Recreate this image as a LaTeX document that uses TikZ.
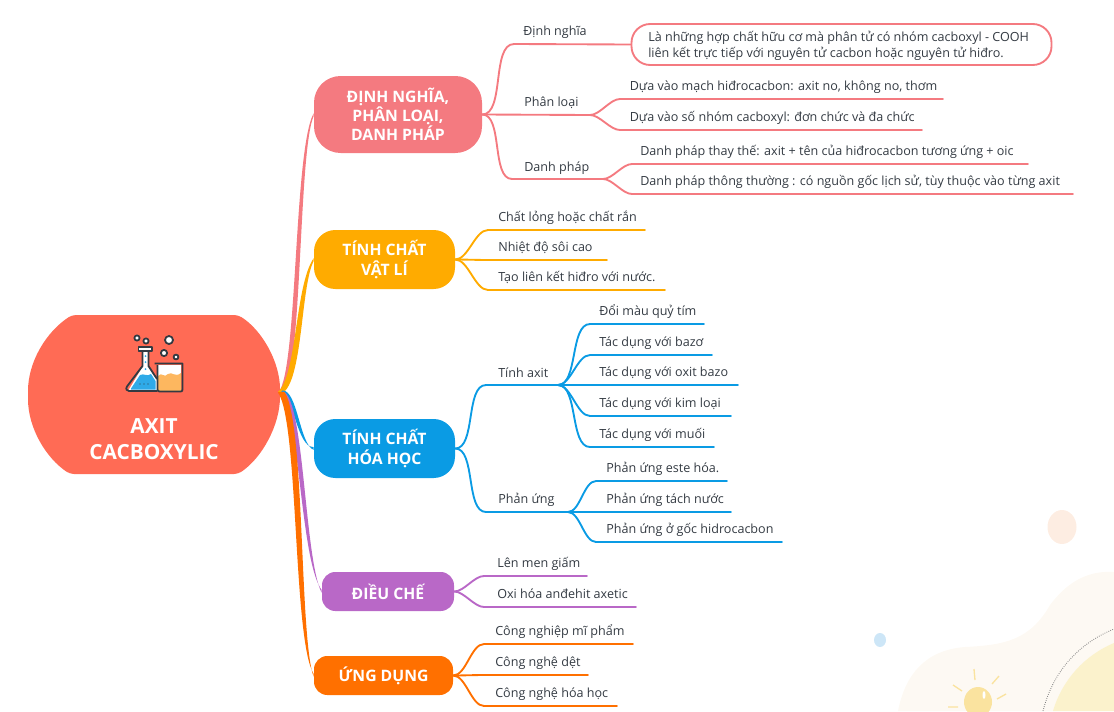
\documentclass[tikz,border=0pt]{standalone}
\usepackage{fontspec}
\setmainfont{Open Sans}
\usepackage{xcolor}
\usetikzlibrary{calc}
\definecolor{rootcol}{HTML}{FF6B55}
\definecolor{pinkcol}{HTML}{F47A80}
\definecolor{ambercol}{HTML}{FFAB00}
\definecolor{bluecol}{HTML}{0A9BE4}
\definecolor{purplecol}{HTML}{B968C7}
\definecolor{deepcol}{HTML}{FF7000}
\definecolor{inkcol}{HTML}{333A42}
\definecolor{beakercol}{HTML}{FDB75F}
\definecolor{blobcol}{HTML}{FDF9F3}
\definecolor{sandcol}{HTML}{FBF2CC}
\definecolor{bulbcol}{HTML}{FAE39F}
\definecolor{peachcol}{HTML}{FDEDE2}
\definecolor{dropcol}{HTML}{CDE6F7}
\tikzset{
  mainbox/.style={fill=#1,text=white,rounded corners=20pt,align=center,inner sep=0pt,
    font=\fontsize{11.8}{14.4}\selectfont\bfseries},
  leaftext/.style={anchor=base west,inner sep=0pt,text=inkcol,
    font=\fontsize{9.43}{12}\selectfont},
  branch/.style={draw=#1,line width=1.4pt,line cap=round,looseness=0.75},
  iconline/.style={draw=inkcol,line width=1.35pt,line join=round}
}
% tapered main branch from the root to a topic box
\newcommand{\trunk}[6]{
  \fill[#1] ($(root)-(#5,#6)$) .. controls ($#3-(#5,#6)$) and ($#4-(#5,#6)$) .. ($(#2.west)+(0,-1.4)$)
    -- ($(#2.west)+(0,1.4)$) .. controls ($#4+(#5,#6)$) and ($#3+(#5,#6)$) .. ($(root)+(#5,#6)$) -- cycle;
}
\begin{document}
\begin{tikzpicture}[x=0.75pt,y=-0.75pt]
  \useasboundingbox (0,0) rectangle (1114,711);
  % background decoration
  \begin{scope}
    \clip (0,0) rectangle (1114,711);
    \fill[peachcol] (1062,527) ellipse (14.5 and 17);
    \fill[dropcol] (880,640) ellipse (6 and 7);
    \fill[blobcol] (898,711) .. controls (905,675) and (925,650) .. (965,647)
      .. controls (1005,645) and (1030,640) .. (1050,605)
      .. controls (1065,585) and (1085,570) .. (1114,572) -- (1114,711) -- cycle;
    \fill[sandcol] (1053,711) .. controls (1062,680) and (1085,655) .. (1114,643)
      -- (1114,711) -- cycle;
    \draw[gray,densely dotted,line width=0.6pt] (1043,711) .. controls (1052,675) and (1075,645) .. (1114,629);
    \fill[bulbcol] (978,702) ellipse (14 and 15);
    \draw[bulbcol,line width=1pt]
      (975,680)--(974,669) (992,684)--(999,676) (997,699)--(1006,694) (962,691)--(953,685) (958,707)--(948,707);
    \fill[white] (984,695) ellipse (1.5 and 4);
  \end{scope}
  % root
  \coordinate (root) at (281,392);
  \fill[rootcol,rounded corners=3pt] (150,315) -- (238,315) .. controls (262,330) and (280,362) .. (280,393)
    .. controls (280,425) and (262,458) .. (238,474) -- (70,474)
    .. controls (46,458) and (28,428) .. (28,395) .. controls (28,362) and (46,332) .. (72,315) -- cycle;
  \node[text=white,align=center,inner sep=0pt,font=\fontsize{15.6}{19.6}\selectfont\bfseries]
    (rootlabel) at (154,439) {AXIT\\CACBOXYLIC};
  % icon
  \fill[white] (143,351) rectangle (148,366);
  \fill[white] (143,366) -- (148,366) -- (157,380) -- (157,391) -- (128,391) -- cycle;
  \fill[bluecol!85!white] (131,388.5) -- (140,375) .. controls (144,373) and (147,377) .. (151,374) -- (155.5,381) -- (155.5,389.5) -- (131,389.5) -- cycle;
  \foreach \dy in {356,362,369}
    \fill[bluecol!85!white] (145.5,\dy) circle (1);
  \foreach \dx in {140,144,148}
    \fill[inkcol] (\dx,384) circle (0.7);
  \draw[iconline] (142.5,351)--(142.5,366)--(127,386.5)
    .. controls (125.5,389) and (126.5,391) .. (129,391)--(157,391)
    (148.5,351)--(148.5,366)--(157,379);
  \draw[iconline,fill=white] (138.5,347) rectangle (152,351);
  \fill[white] (158,365) rectangle (181,376);
  \fill[beakercol] (158,376) .. controls (162,371) and (164,379) .. (168,374)
    .. controls (172,371) and (175,378) .. (181,373) -- (181,391) -- (158,391) -- cycle;
  \draw[iconline] (154.5,363.5)--(182.5,363.5)--(182.5,389.5) .. controls (182.5,391) and (182,391.5) .. (180.5,391.5)
    --(160,391.5) .. controls (158.5,391.5) and (157.5,391) .. (157.5,389.5)--(157.5,365);
  \foreach \cx/\cy/\cr in {137/338/2.6,146/341/2.6,169/340/4,164/353/3.1,176/357/2.4}
    \draw[iconline,fill=white] (\cx,\cy) circle (\cr);
  % topic boxes
  \node[mainbox=pinkcol,minimum width=126pt,minimum height=57.75pt] (topicdef) at (398,114.5) {ĐỊNH NGHĨA,\\PHÂN LOẠI,\\DANH PHÁP};
  \node[mainbox=ambercol,minimum width=105.75pt,minimum height=44.25pt,rounded corners=16pt] (topicphys) at (384.5,259.5) {TÍNH CHẤT\\VẬT LÍ};
  \node[mainbox=bluecol,minimum width=105.75pt,minimum height=44.25pt,rounded corners=16pt] (topicchem) at (384.5,448.5) {TÍNH CHẤT\\HÓA HỌC};
  \node[mainbox=purplecol,minimum width=99pt,minimum height=29.25pt,rounded corners=10pt] (topicprep) at (388,591.5) {ĐIỀU CHẾ};
  \node[mainbox=deepcol,minimum width=104.25pt,minimum height=29.25pt,rounded corners=10pt] (topicuse) at (383.5,675.5) {ỨNG DỤNG};
  % main branches
  \trunk{pinkcol}{topicdef}{(300,370)}{(296,150)}{2.4}{0}
  \trunk{ambercol}{topicphys}{(300,375)}{(298,285)}{3}{0}
  \trunk{bluecol}{topicchem}{(296,392)}{(298,446)}{1.6}{-1.6}
  \trunk{purplecol}{topicprep}{(302,400)}{(302,560)}{2.4}{-0.3}
  \trunk{deepcol}{topicuse}{(302,420)}{(296,640)}{3.2}{-0.3}
  % second level, pink
  \node[leaftext] (defname) at (523,35.5) {Định nghĩa};
  \node[leaftext] (defkind) at (524,106) {Phân loại};
  \node[leaftext] (defnomen) at (524,171) {Danh pháp};
  \node[draw=pinkcol,line width=1.4pt,rounded corners=14pt,minimum width=315pt,minimum height=30.75pt,inner sep=0pt] (defbox) at (841.5,44.5) {};
  \node[leaftext,align=left,anchor=west] (defboxtext) at (648,45.5) {Là những hợp chất hữu cơ mà phân tử có nhóm cacboxyl - COOH\\liên kết trực tiếp với nguyên tử cacbon hoặc nguyên tử hiđro.};
  \coordinate (hubkind) at (590,115);
  \coordinate (hubnomen) at (603,179);
  \draw[branch=pinkcol] (topicdef.east) to[out=0,in=180] (514,44) -- (defbox.west);
  \draw[branch=pinkcol] (topicdef.east) -- (hubkind);
  \draw[branch=pinkcol] (topicdef.east) to[out=0,in=180] (512,179) -- (hubnomen);
  % second level, blue
  \node[leaftext] (chemacid) at (498,377) {Tính axit};
  \node[leaftext] (chemreact) at (498,503) {Phản ứng};
  \coordinate (hubacid) at (558,385);
  \coordinate (hubreact) at (568,512);
  \draw[branch=bluecol] (topicchem.east) to[out=0,in=180] (486,385) -- (hubacid);
  \draw[branch=bluecol] (topicchem.east) to[out=0,in=180] (486,512) -- (hubreact);
  % leaves: name/colour/parent/line y/line start/line end/text x/text
  \foreach \nm/\col/\from/\ly/\lx/\lend/\tx/\txt in {
    kinda/pinkcol/hubkind/99/620/943/629.5/{Dựa vào mạch hiđrocacbon: axit no, không no, thơm},
    kindb/pinkcol/hubkind/130/620/922/629.5/{Dựa vào số nhóm cacboxyl: đơn chức và đa chức},
    nomena/pinkcol/hubnomen/164/632/1028/640/{Danh pháp thay thế: axit + tên của hiđrocacbon tương ứng + oic},
    nomenb/pinkcol/hubnomen/194/632/1073/640/{Danh pháp thông thường : có nguồn gốc lịch sử, tùy thuộc vào từng axit},
    physa/ambercol/topicphys.east/230/488/645/498/{Chất lỏng hoặc chất rắn},
    physb/ambercol/topicphys.east/260/488/607/498/{Nhiệt độ sôi cao},
    physc/ambercol/topicphys.east/290/488/665/498/{Tạo liên kết hiđro với nước.},
    acida/bluecol/hubacid/324/590/704/599/{Đổi màu quỷ tím},
    acidb/bluecol/hubacid/355/590/712/599/{Tác dụng với bazơ},
    acidc/bluecol/hubacid/385/590/738/599/{Tác dụng với oxit bazo},
    acidd/bluecol/hubacid/416/590/731/599/{Tác dụng với kim loại},
    acide/bluecol/hubacid/447/590/714/599/{Tác dụng với muối},
    reacta/bluecol/hubreact/481/596/727/606/{Phản ứng este hóa.},
    reactb/bluecol/hubreact/512/596/731/606/{Phản ứng tách nước},
    reactc/bluecol/hubreact/542/596/782/606/{Phản ứng ở gốc hidrocacbon},
    prepa/purplecol/topicprep.east/576/484/587/497/{Lên men giấm},
    prepb/purplecol/topicprep.east/607/484/636/497/{Oxi hóa anđehit axetic},
    usea/deepcol/topicuse.east/644/484/633/495/{Công nghiệp mĩ phẩm},
    useb/deepcol/topicuse.east/675/484/588/495/{Công nghệ dệt},
    usec/deepcol/topicuse.east/706/484/617/495/{Công nghệ hóa học}}
  {
    \node[leaftext] (\nm) at (\tx,\ly-9) {\txt};
    \coordinate (\nm end) at (\lend,\ly);
    \draw[branch=\col] (\from) to[out=0,in=180] (\lx,\ly) -- (\nm end);
  }
\end{tikzpicture}
\end{document}
